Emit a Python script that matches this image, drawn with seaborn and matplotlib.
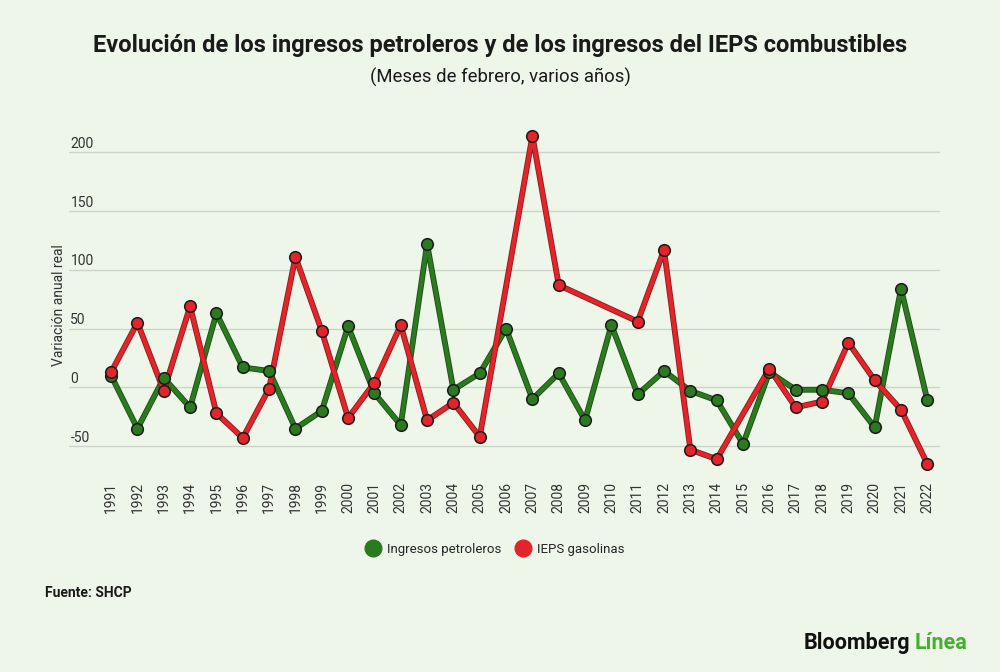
import numpy as np
import pandas as pd
import seaborn as sns
import matplotlib.pyplot as plt
from matplotlib.lines import Line2D
import matplotlib.patheffects as pe

# datos (variacion anual real, %)
years = list(range(1991, 2023))
ingresos_petroleros = [10, -35, 8, -17, 63, 17, 14, -35, -20, 52, -5, -32, 122, -2, 12,
                       50, -10, 12, -28, 53, -6, 14, -3, -11, -48, 13, -2, -2, -5, -34, 84, -11]
ieps_gasolinas = [13, 55, -3, 69, -22, -43, -1, 111, 48, -26, 4, 53, -28, -13, -42,
                  np.nan, 214, 87, np.nan, np.nan, 56, 117, -53, -61, np.nan, 16, -17, -12, 38, 6, -19, -65]

series = ["Ingresos petroleros", "IEPS gasolinas"]
colors = {"Ingresos petroleros": "#2b7a1f", "IEPS gasolinas": "#e3242b"}
edge_colors = {"Ingresos petroleros": "#1c4d14", "IEPS gasolinas": "#8e1a17"}
yticks = [-50, 0, 50, 100, 150, 200]

df = pd.DataFrame({"Año": years,
                   "Ingresos petroleros": ingresos_petroleros,
                   "IEPS gasolinas": ieps_gasolinas})
long = df.melt(id_vars="Año", var_name="Serie", value_name="Valor").dropna()

bg = "#edf6e9"
sns.set_theme(style="white")
plt.rcParams['font.family'] = ['Roboto', 'DejaVu Sans']

fig = plt.figure(figsize=(10, 6.72), dpi=100, facecolor=bg)
ax = fig.add_axes([0.069, 0.301, 0.871, 0.525])
ax.set_facecolor(bg)

# primero las dos lineas, luego los puntos encima
for s in series:
    sub = long[long["Serie"] == s]
    sns.lineplot(data=sub, x="Año", y="Valor", color=colors[s], linewidth=3,
                 ax=ax, legend=False,
                 path_effects=[pe.Stroke(linewidth=4.2, foreground=edge_colors[s]), pe.Normal()])
for s in series:
    sub = long[long["Serie"] == s]
    sns.scatterplot(data=sub, x="Año", y="Valor", color=colors[s], s=70,
                    edgecolor="#1a1a1a", linewidth=1.1, ax=ax, legend=False, zorder=5)

ax.set_xlim(1989.4, 2022.48)
ax.set_ylim(-70, 230)
for sp in ax.spines.values():
    sp.set_visible(False)

ax.set_yticks(yticks)
ax.set_yticklabels([])
ax.tick_params(axis="y", length=0)
ax.yaxis.grid(True, color="#cdd3ca", linewidth=1)
ax.set_axisbelow(True)
for v in yticks:
    ax.annotate(str(v), xy=(0, v), xycoords=("axes fraction", "data"),
                xytext=(1, 1), textcoords="offset points", ha="left", va="bottom",
                fontsize=10, color="#333333")

ax.set_xticks(years)
ax.set_xticklabels([str(y) for y in years], rotation=90, fontsize=10, color="#333333")
ax.tick_params(axis="x", length=0, pad=9)
ax.set_xlabel("")
ax.set_ylabel("Variación anual real", fontsize=10, color="#333333")
ax.yaxis.set_label_coords(-0.004, 0.467)

handles = [Line2D([0], [0], marker="o", linestyle="", markersize=12,
                  markerfacecolor=colors[s], markeredgecolor=colors[s]) for s in series]
fig.legend(handles, series, loc="center", bbox_to_anchor=(0.492, 0.183), ncol=2,
           frameon=False, fontsize=9.5, handletextpad=0.1, columnspacing=0.6)

fig.text(0.5, 0.933, "Evolución de los ingresos petroleros y de los ingresos del IEPS combustibles",
         ha="center", va="center", fontsize=17, fontweight="bold", color="#1a1a1a")
fig.text(0.5, 0.885, "(Meses de febrero, varios años)", ha="center", va="center",
         fontsize=13.3, color="#1a1a1a")
fig.text(0.045, 0.117, "Fuente: SHCP", ha="left", va="center", fontsize=10,
         fontweight="bold", color="#1a1a1a")
fig.text(0.910, 0.043, "Bloomberg", ha="right", va="center", fontsize=15.5,
         fontweight="bold", color="#111111")
fig.text(0.915, 0.043, "Línea", ha="left", va="center", fontsize=15.5,
         fontweight="bold", color="#45b02f")

fig.savefig("out.png", dpi=100, facecolor=bg)
